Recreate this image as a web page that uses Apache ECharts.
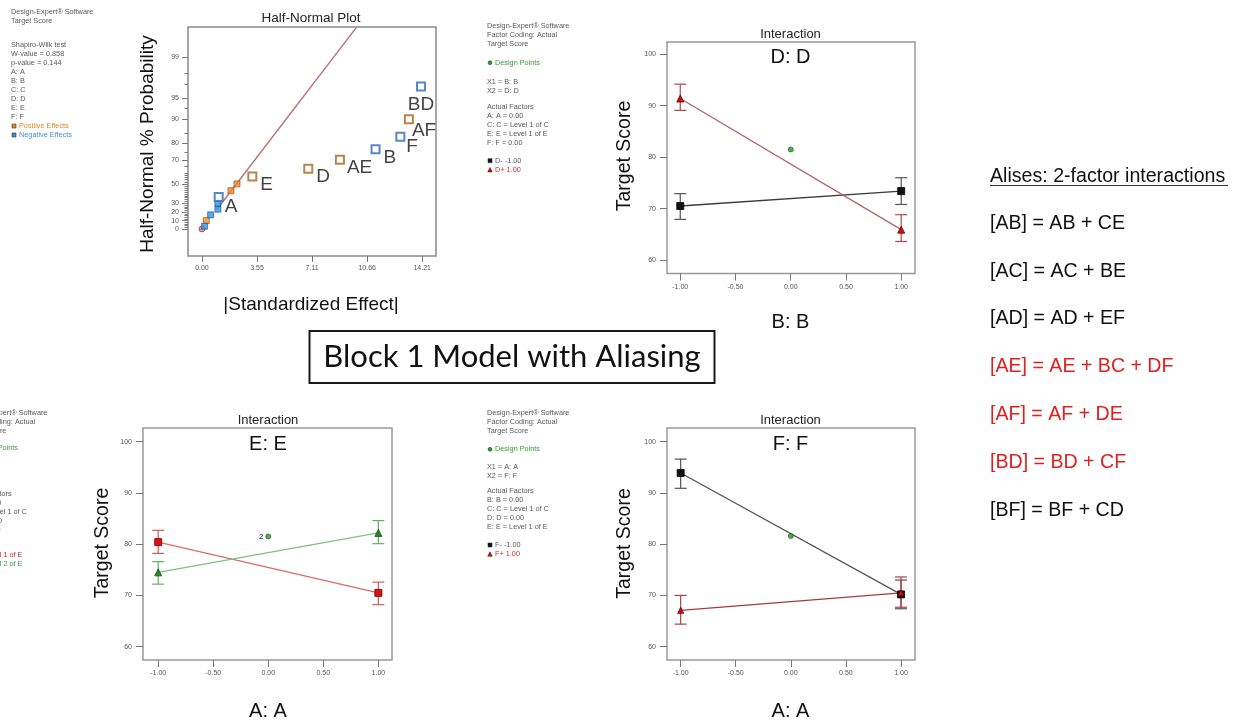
<!DOCTYPE html>
<html>
<head>
<meta charset="utf-8">
<script src="https://cdn.jsdelivr.net/npm/echarts@6/dist/echarts.min.js"></script>
<style>
html,body{margin:0;padding:0;background:#fff;}
#chart{width:1241px;height:721px;}
</style>
</head>
<body>
<div id="chart"></div>
<script>
// ---------- Half-normal plot of effects ----------
const hnEffect = [0, 0.17, 0.28, 0.56, 1.03, 1.03, 1.08, 1.87, 2.26, 3.25, 6.86, 8.9, 11.2, 12.8, 13.35, 14.13];
const hnProb   = [0, 3.3, 10, 16.7, 23.3, 30, 36.7, 43.3, 50, 56.7, 63.3, 70, 76.7, 83.3, 90, 96.7];
const hnKind   = ['err','neg','pos','neg','neg','neg','neg','pos','pos','pos','pos','pos','neg','neg','pos','neg'];
const hnTerm   = ['','','','','','','A','','','E','D','AE','B','F','AF','BD'];
const hnFitEffect = [0.95, 9.98];
const hnFitProb   = [22.7, 99.75];
const hnXTicks = [0, 3.55, 7.11, 10.66, 14.21];
const hnYTickPct = [0, 10, 20, 30, 50, 70, 80, 90, 95, 99];
const hnYMinorPct = [0,2,4,6,8,10,12,14,16,18,20,22,24,26,28,30,32,34,36,38,40,42,44,46,48,50,52,54,56,58,60,65,70,75,80,85,90,93,95,97,98,99];

// ---------- Interaction plots ----------
const levels = [-1, 1];
const interXTicks = [-1, -0.5, 0, 0.5, 1];
const interYTicks = [60, 70, 80, 90, 100];

// D: D over B: B
const dMinus = [70.5, 73.4], dMinusLo = [67.9, 70.8], dMinusHi = [72.9, 76.0];
const dPlus  = [91.4, 65.9], dPlusLo  = [89.1, 63.6], dPlusHi  = [94.2, 68.8];
const dCenter = 81.5;

// E: E over A: A
const eLevel1 = [80.4, 70.5], eLevel1Lo = [78.2, 68.2], eLevel1Hi = [82.7, 72.6];
const eLevel2 = [74.5, 82.2], eLevel2Lo = [72.2, 80.1], eLevel2Hi = [76.6, 84.6];
const eCenter = 81.5;

// F: F over A: A
const fMinus = [93.9, 70.2], fMinusLo = [90.9, 67.4], fMinusHi = [96.6, 73.0];
const fPlus  = [67.1, 70.5], fPlusLo  = [64.4, 67.7], fPlusHi  = [70.0, 73.6];
const fCenter = 81.6;

// ---------- Text blocks ----------
const aliasTitle = 'Alises: 2-factor interactions';
const aliasLines = ['[AB] = AB + CE', '[AC] = AC + BE', '[AD] = AD + EF', '[AE] = AE + BC + DF', '[AF] = AF + DE', '[BD] = BD + CF', '[BF] = BF + CD'];
const aliasHighlighted = [false, false, false, true, true, true, false];
const blockTitle = 'Block 1 Model with Aliasing';

// inverse standard normal CDF (Acklam)
function invNorm(p) {
  const a=[-3.969683028665376e+01,2.209460984245205e+02,-2.759285104469687e+02,1.383577518672690e+02,-3.066479806614716e+01,2.506628277459239e+00];
  const b=[-5.447609879822406e+01,1.615858368580409e+02,-1.556989798598866e+02,6.680131188771972e+01,-1.328068155288572e+01];
  const c=[-7.784894002430293e-03,-3.223964580411365e-01,-2.400758277161838e+00,-2.549671010115320e+00,4.374664141464968e+00,2.938163982698783e+00];
  const d=[7.784695709041462e-03,3.224671290700398e-01,2.445134137142996e+00,3.754408661907416e+00];
  const pl=0.02425, ph=1-pl; let q, r;
  if (p < pl) { q=Math.sqrt(-2*Math.log(p)); return (((((c[0]*q+c[1])*q+c[2])*q+c[3])*q+c[4])*q+c[5])/((((d[0]*q+d[1])*q+d[2])*q+d[3])*q+1); }
  if (p <= ph) { q=p-0.5; r=q*q; return (((((a[0]*r+a[1])*r+a[2])*r+a[3])*r+a[4])*r+a[5])*q/(((((b[0]*r+b[1])*r+b[2])*r+b[3])*r+b[4])*r+1); }
  q=Math.sqrt(-2*Math.log(1-p)); return -(((((c[0]*q+c[1])*q+c[2])*q+c[3])*q+c[4])*q+c[5])/((((d[0]*q+d[1])*q+d[2])*q+d[3])*q+1);
}
// half-normal probability (%) -> |z| position
function hnZ(pct) { return pct <= 0 ? 0 : invNorm(0.5 + pct / 200); }

const FONT = 'Liberation Sans';
const GRAY = '#5a5a5a';
const ORANGE = '#e0892a', BLUE = '#3b8fe0', GREEN = '#3a9a3a', RED = '#d42a2a';

// ---------- half-normal series ----------
const hnPts = hnEffect.map((e, i) => ({ e, z: hnZ(hnProb[i]), kind: hnKind[i], term: hnTerm[i] }));
const termLabelOffset = { A:[0,10], E:[2,8], D:[2,8], AE:[1,8], B:[2,8], F:[0,10], AF:[-3,12], BD:[0,2] };

function hnScatter(filterFn, itemStyle, size, symbol, withLabel) {
  return {
    type: 'scatter', xAxisIndex: 0, yAxisIndex: 0, symbol, symbolSize: size, z: 5,
    itemStyle,
    data: hnPts.filter(filterFn).map(p => ({
      value: [p.e, p.z],
      label: withLabel ? {
        show: true, formatter: p.term,
        position: p.term === 'BD' ? 'bottom' : 'right',
        distance: p.term === 'BD' ? 2 : 1,
        offset: termLabelOffset[p.term] || [0, 0],
        fontSize: 19, fontFamily: FONT, color: '#111'
      } : { show: false }
    }))
  };
}

function errorBars(xIdx, yIdx, lo, hi, color) {
  return {
    type: 'custom', xAxisIndex: xIdx, yAxisIndex: yIdx, z: 3,
    data: levels.map((x, i) => [x, lo[i], hi[i]]),
    encode: { x: 0, y: [1, 2] },
    renderItem: (params, api) => {
      const x = api.value(0);
      const pLo = api.coord([x, api.value(1)]);
      const pHi = api.coord([x, api.value(2)]);
      const w = 6;
      const style = { stroke: color, lineWidth: 1.2 };
      return { type: 'group', children: [
        { type: 'line', shape: { x1: pLo[0], y1: pLo[1], x2: pHi[0], y2: pHi[1] }, style },
        { type: 'line', shape: { x1: pLo[0] - w, y1: pLo[1], x2: pLo[0] + w, y2: pLo[1] }, style },
        { type: 'line', shape: { x1: pHi[0] - w, y1: pHi[1], x2: pHi[0] + w, y2: pHi[1] }, style }
      ]};
    }
  };
}

function interLine(xIdx, yIdx, vals, lineColor, symbol, fill, border, size) {
  return {
    type: 'line', xAxisIndex: xIdx, yAxisIndex: yIdx, z: 4,
    data: levels.map((x, i) => [x, vals[i]]),
    symbol, symbolSize: size, showSymbol: true,
    lineStyle: { color: lineColor, width: 1.3 },
    itemStyle: { color: fill, borderColor: border, borderWidth: 0.8 }
  };
}

function centerPoint(xIdx, yIdx, val, withCount) {
  return {
    type: 'scatter', xAxisIndex: xIdx, yAxisIndex: yIdx, z: 6,
    symbol: 'circle', symbolSize: 5,
    itemStyle: { color: '#2a9a2a', borderColor: '#144d14', borderWidth: 0.8 },
    data: [{ value: [0, val], label: withCount ? { show: true, formatter: '2', position: 'left', distance: 2, fontSize: 8, fontFamily: FONT, color: '#222', fontWeight: 'bold' } : { show: false } }]
  };
}

// ---------- axes ----------
const tickLbl = { fontSize: 7, color: '#555', fontFamily: FONT };

function interX(grid, min, max) {
  return {
    type: 'value', gridIndex: grid, min, max,
    axisLine: { show: false, onZero: false },
    splitLine: { show: false },
    axisTick: { show: true, length: 7, customValues: interXTicks, lineStyle: { color: '#777' } },
    axisLabel: Object.assign({ customValues: interXTicks, margin: 10, formatter: v => v.toFixed(2) }, tickLbl)
  };
}
function interY(grid, min, max) {
  return {
    type: 'value', gridIndex: grid, min, max,
    axisLine: { show: false, onZero: false },
    splitLine: { show: false },
    axisTick: { show: true, length: 7, customValues: interYTicks, lineStyle: { color: '#777' } },
    axisLabel: Object.assign({ customValues: interYTicks, margin: 11, formatter: v => String(v) }, tickLbl)
  };
}

const hnMajorZ = hnYTickPct.map(hnZ);
const hnMinorZ = hnYMinorPct.map(hnZ);

// ---------- graphic helpers ----------
function txt(x, y, s, o) {
  o = o || {};
  return {
    type: 'text', x, y, rotation: o.rot || 0, silent: true, z: 10,
    style: { text: s, fill: o.color || GRAY, fontSize: o.size || 7.3, fontFamily: o.family || FONT,
             fontWeight: o.weight || 'normal', align: o.align || 'left', verticalAlign: 'middle' }
  };
}
function sq(x, y, color, s) { s = s || 4; return { type: 'rect', silent: true, z: 10, shape: { x: x - s/2, y: y - s/2, width: s, height: s }, style: { fill: color, stroke: '#333', lineWidth: 0.6 } }; }
function tri(x, y, color, s) { s = s || 4.5; return { type: 'polygon', silent: true, z: 10, shape: { points: [[x, y - s/2], [x + s/2, y + s/2], [x - s/2, y + s/2]] }, style: { fill: color, stroke: '#400', lineWidth: 0.5 } }; }
function dot(x, y, color, s) { s = s || 4; return { type: 'circle', silent: true, z: 10, shape: { cx: x, cy: y, r: s/2 }, style: { fill: color, stroke: '#144d14', lineWidth: 0.5 } }; }

// notes printed beside each plot: [y, text, color, symbol, symbolColor]
function noteBlock(x, rows) {
  const out = [];
  rows.forEach(r => {
    const [y, s, color, sym, symColor] = r;
    if (sym) {
      if (sym === 'sq') out.push(sq(x + 3, y, symColor));
      if (sym === 'tri') out.push(tri(x + 3, y, symColor));
      if (sym === 'dot') out.push(dot(x + 3, y, symColor));
      out.push(txt(x + 8, y, s, { color: color || GRAY }));
    } else {
      out.push(txt(x, y, s, { color: color || GRAY }));
    }
  });
  return out;
}

const notesHalfNormal = [
  [11.7, 'Design-Expert® Software'], [20.5, 'Target Score'],
  [45, 'Shapiro-Wilk test'], [54, 'W-value = 0.858'], [63, 'p-value = 0.144'],
  [72, 'A: A'], [81, 'B: B'], [90, 'C: C'], [99, 'D: D'], [108, 'E: E'], [117, 'F: F'],
  [126, 'Positive Effects', ORANGE, 'sq', ORANGE], [135, 'Negative Effects', BLUE, 'sq', BLUE]
];
const notesD = [
  [26, 'Design-Expert® Software'], [35, 'Factor Coding: Actual'], [44, 'Target Score'],
  [62.7, 'Design Points', GREEN, 'dot', '#2a9a2a'],
  [81.7, 'X1 = B: B'], [90.7, 'X2 = D: D'],
  [107, 'Actual Factors'], [116, 'A: A = 0.00'], [125, 'C: C = Level 1 of C'], [134, 'E: E = Level 1 of E'], [143, 'F: F = 0.00'],
  [160.7, 'D- -1.00', GRAY, 'sq', '#111'], [169.7, 'D+ 1.00', RED, 'tri', '#d01010']
];
const notesE = [
  [413.3, 'Design-Expert® Software'], [422.3, 'Factor Coding: Actual'], [431.3, 'Target Score'],
  [448, 'Design Points', GREEN, 'dot', '#2a9a2a'],
  [466, 'X1 = A: A'], [475, 'X2 = E: E'],
  [494, 'Actual Factors'], [503, 'B: B = 0.00'], [512, 'C: C = Level 1 of C'], [521, 'D: D = 0.00'], [530, 'F: F = 0.00'],
  [555.3, 'E1 Level 1 of E', RED, 'sq', '#e01010'], [564.3, 'E2 Level 2 of E', GREEN, 'tri', '#2a8a2a']
];
const notesF = [
  [412.7, 'Design-Expert® Software'], [421.7, 'Factor Coding: Actual'], [430.7, 'Target Score'],
  [449.3, 'Design Points', GREEN, 'dot', '#2a9a2a'],
  [467.3, 'X1 = A: A'], [476.3, 'X2 = F: F'],
  [490.7, 'Actual Factors'], [499.7, 'B: B = 0.00'], [508.7, 'C: C = Level 1 of C'], [517.7, 'D: D = 0.00'], [526.7, 'E: E = Level 1 of E'],
  [545, 'F- -1.00', GRAY, 'sq', '#111'], [554, 'F+ 1.00', RED, 'tri', '#d01010']
];

const BIG = 19;
const ALIAS = 19.6;
const graphics = [].concat(
  noteBlock(11, notesHalfNormal),
  noteBlock(487, notesD),
  noteBlock(-35, notesE),
  noteBlock(487, notesF),
  [
    // half-normal titles
    txt(311, 18, 'Half-Normal Plot', { color: '#222', size: 13.5, align: 'center' }),
    txt(148, 144, 'Half-Normal % Probability', { color: '#111', size: BIG, align: 'center', rot: Math.PI / 2 }),
    txt(311, 305, '|Standardized Effect|', { color: '#111', size: BIG, align: 'center' }),
    // D plot titles
    txt(790.5, 34, 'Interaction', { color: '#222', size: 13, align: 'center' }),
    txt(790.5, 57.3, 'D: D', { color: '#111', size: 20, align: 'center' }),
    txt(790.5, 322.7, 'B: B', { color: '#111', size: 20, align: 'center' }),
    txt(625, 156, 'Target Score', { color: '#111', size: 19.5, align: 'center', rot: Math.PI / 2 }),
    // E plot titles
    txt(268, 420.7, 'Interaction', { color: '#222', size: 13, align: 'center' }),
    txt(268, 444.3, 'E: E', { color: '#111', size: 20, align: 'center' }),
    txt(268, 711.7, 'A: A', { color: '#111', size: 20, align: 'center' }),
    txt(103, 543, 'Target Score', { color: '#111', size: 19.5, align: 'center', rot: Math.PI / 2 }),
    // F plot titles
    txt(790.5, 420.7, 'Interaction', { color: '#222', size: 13, align: 'center' }),
    txt(790.5, 444.3, 'F: F', { color: '#111', size: 20, align: 'center' }),
    txt(790.5, 711.7, 'A: A', { color: '#111', size: 20, align: 'center' }),
    txt(624.5, 543.5, 'Target Score', { color: '#111', size: 19.5, align: 'center', rot: Math.PI / 2 }),
    // block caption
    { type: 'rect', silent: true, z: 9, shape: { x: 309.5, y: 331, width: 405, height: 52 }, style: { fill: '#fff', stroke: '#1a1a1a', lineWidth: 2 } },
    txt(512, 357, blockTitle, { color: '#111', size: 31, family: 'Lato', align: 'center' }),
    // aliases
    txt(990, 176.7, aliasTitle, { color: '#111', size: ALIAS }),
    { type: 'line', silent: true, z: 10, shape: { x1: 990, y1: 185.5, x2: 1228, y2: 185.5 }, style: { stroke: '#333', lineWidth: 1.2 } }
  ],
  aliasLines.map((s, i) => txt(990, 223.3 + i * 47.8, s, { color: aliasHighlighted[i] ? '#e21f1f' : '#111', size: ALIAS }))
);

const option = {
  animation: false,
  backgroundColor: '#fff',
  grid: [
    { left: 188, top: 27, width: 248, height: 229, show: true, borderColor: '#8a8a8a', borderWidth: 1.5 },
    { left: 667, top: 42, width: 248, height: 231.5, show: true, borderColor: '#999', borderWidth: 1.5 },
    { left: 143, top: 428, width: 249, height: 232, show: true, borderColor: '#999', borderWidth: 1.5 },
    { left: 667, top: 428, width: 248, height: 232, show: true, borderColor: '#999', borderWidth: 1.5 }
  ],
  xAxis: [
    {
      type: 'value', gridIndex: 0, min: -0.9, max: 15.1,
      axisLine: { show: false, onZero: false }, splitLine: { show: false },
      axisTick: { show: true, length: 6, customValues: hnXTicks, lineStyle: { color: '#777' } },
      axisLabel: Object.assign({ customValues: hnXTicks, margin: 9, formatter: v => v.toFixed(2) }, tickLbl)
    },
    interX(1, -1.12, 1.125),
    interX(2, -1.138, 1.124),
    interX(3, -1.124, 1.127)
  ],
  yAxis: [
    {
      type: 'value', gridIndex: 0, min: -0.405, max: 3.025, position: 'left',
      axisLine: { show: false, onZero: false }, splitLine: { show: false },
      axisTick: { show: true, length: 6, customValues: hnMajorZ, lineStyle: { color: '#777' } },
      axisLabel: Object.assign({ customValues: hnMajorZ, margin: 9, formatter: v => {
        const i = hnMajorZ.findIndex(z => Math.abs(z - v) < 1e-6);
        return i >= 0 ? String(hnYTickPct[i]) : '';
      } }, tickLbl)
    },
    {
      type: 'value', gridIndex: 0, min: -0.405, max: 3.025, position: 'left', offset: 0,
      axisLine: { show: false, onZero: false }, splitLine: { show: false },
      axisTick: { show: true, length: 3.5, customValues: hnMinorZ, lineStyle: { color: '#777' } },
      axisLabel: { show: false }
    },
    interY(1, 57.37, 102.4),
    interY(2, 57.4, 102.67),
    interY(3, 57.4, 102.67)
  ],
  graphic: { elements: graphics },
  series: [
    // half-normal fit line and effects
    {
      type: 'line', xAxisIndex: 0, yAxisIndex: 0, clip: true, symbol: 'none', z: 2,
      data: hnFitEffect.map((e, i) => [e, hnZ(hnFitProb[i])]),
      lineStyle: { color: '#b87878', width: 1.5 }
    },
    hnScatter(p => p.kind === 'err', { color: '#e07070', borderColor: '#8a3030', borderWidth: 0.8 }, 6, 'circle', false),
    hnScatter(p => p.kind === 'pos' && !p.term, { color: '#f28c28', borderColor: '#8a4a10', borderWidth: 0.8 }, 6, 'rect', false),
    hnScatter(p => p.kind === 'neg' && !p.term, { color: '#2d93ea', borderColor: '#1b4f8a', borderWidth: 0.8 }, 6, 'rect', false),
    hnScatter(p => p.kind === 'pos' && p.term, { color: '#fff', borderColor: '#a8641f', borderWidth: 2 }, 8, 'rect', true),
    hnScatter(p => p.kind === 'neg' && p.term, { color: '#fff', borderColor: '#2b6cb5', borderWidth: 2 }, 8, 'rect', true),

    // D: D interaction
    errorBars(1, 2, dMinusLo, dMinusHi, '#555'),
    errorBars(1, 2, dPlusLo, dPlusHi, '#b04a4a'),
    interLine(1, 2, dMinus, '#3a3a3a', 'rect', '#111', '#000', 7),
    interLine(1, 2, dPlus, '#b46464', 'triangle', '#d01010', '#600', 7),
    centerPoint(1, 2, dCenter, false),

    // E: E interaction
    errorBars(2, 3, eLevel1Lo, eLevel1Hi, '#d05a5a'),
    errorBars(2, 3, eLevel2Lo, eLevel2Hi, '#5fb05f'),
    interLine(2, 3, eLevel1, '#e06a6a', 'rect', '#e01010', '#600', 7),
    interLine(2, 3, eLevel2, '#7cc47c', 'triangle', '#2a8a2a', '#1a4a1a', 7),
    centerPoint(2, 3, eCenter, true),

    // F: F interaction
    errorBars(3, 4, fMinusLo, fMinusHi, '#555'),
    errorBars(3, 4, fPlusLo, fPlusHi, '#b04040'),
    interLine(3, 4, fMinus, '#555', 'rect', '#111', '#000', 7),
    interLine(3, 4, fPlus, '#a83a3a', 'triangle', '#d01010', '#600', 6),
    centerPoint(3, 4, fCenter, false)
  ]
};

const chart = echarts.init(document.getElementById('chart'), null, { renderer: 'canvas' });
chart.setOption(option);
</script>
</body>
</html>
